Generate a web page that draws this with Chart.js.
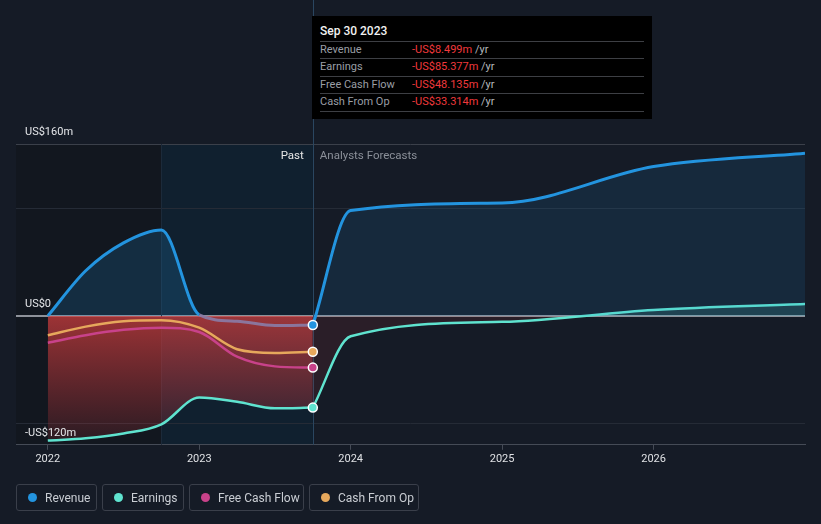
<!DOCTYPE html>
<html><head><meta charset="utf-8">
<script src="https://cdn.jsdelivr.net/npm/chart.js@4"></script>
<style>
html,body{margin:0;padding:0;background:#151b26;}
#wrap{position:relative;width:821px;height:524px;font-family:Roboto,"Noto Sans",sans-serif;overflow:hidden;}
#c{position:absolute;left:0;top:0;}
#tip{position:absolute;left:312px;top:16px;width:340px;height:103px;background:#000;color:#fff;font-size:11px;}
#tip .t{position:absolute;left:8px;top:8px;font-size:12px;font-weight:500;color:#f2f2f2;}
#tip .sep{position:absolute;left:8px;right:8px;height:1px;background:#3d3f44;}
#tip .row{position:absolute;left:8px;height:14px;line-height:14px;}
#tip .lab{position:absolute;left:0;color:#9a9ea5;white-space:nowrap;}
#tip .val{position:absolute;left:92px;color:#f0393c;white-space:nowrap;}
#tip .val span{color:#b5b8bd;}
#legend{position:absolute;left:16px;top:484px;display:flex;gap:5px;}
.li{box-sizing:border-box;height:27px;border:1px solid #3a3f4a;border-radius:3px;display:flex;align-items:center;padding-left:11px;font-size:12px;color:#c9cdd3;}
.li i{display:inline-block;width:9px;height:9px;border-radius:50%;margin-right:8px;}
</style></head>
<body><div id="wrap"><canvas id="c" width="821" height="524"></canvas>
<div id="tip"></div><div id="legend"></div></div>
<script>
// ---------- data ----------
const pastDates     = [2022.0, 2022.25, 2022.5, 2022.75, 2023.0, 2023.25, 2023.5, 2023.75];
const forecastDates = [2023.75, 2024.0, 2025.0, 2026.0, 2027.0];
const revenuePast   = [0, 42, 68, 80, 1, -5, -9, -8.499];
const revenueFc     = [-8.499, 98, 105, 139, 151.5];
const earningsPast  = [-116, -114, -109.5, -101, -76, -80, -86, -85.377];
const earningsFc    = [-85.377, -19, -5.5, 5.5, 11];
const fcfPast       = [-25, -18, -13, -11, -15, -38, -47, -48.135];
const cfoPast       = [-18, -10, -5, -4, -11, -31, -34.5, -33.314];
const yearTicks     = [2022, 2023, 2024, 2025, 2026];
const yGridValues   = [-120, -100, 0, 100, 160];
const yLabels       = [{v:160, t:'US$160m'}, {v:0, t:'US$0'}, {v:-120, t:'-US$120m'}];
const seriesNames   = ['Revenue', 'Earnings', 'Free Cash Flow', 'Cash From Op'];
const seriesColors  = ['#2394df', '#5fe3cf', '#c8428a', '#e6a85c'];
const tipTitle      = 'Sep 30 2023';
const tipValues     = ['-US$8.499m', '-US$85.377m', '-US$48.135m', '-US$33.314m'];
const highlightStart = 2022.75, forecastStart = 2023.75;
const xMin = 2021.79, xMax = 2027.0;

const pts = (xs, ys) => xs.map((x, i) => ({x, y: ys[i]}));
const lastPoint = n => (ctx => ctx.dataIndex === n - 1 ? 4.5 : 0);

const redGrad = ctx => {
  const ch = ctx.chart, ca = ch.chartArea;
  if (!ca) return 'rgba(205,60,60,0.4)';
  const y0 = ch.scales.y.getPixelForValue(0);
  const g = ch.ctx.createLinearGradient(0, y0, 0, ca.bottom);
  g.addColorStop(0, 'rgba(210,62,62,0.72)');
  g.addColorStop(1, 'rgba(200,55,60,0.12)');
  return g;
};

const base = {cubicInterpolationMode:'monotone', pointBorderColor:'#ffffff', pointBorderWidth:1.5, pointHoverRadius:0};

const datasets = [
  {...base, label:'rev-past', data:pts(pastDates, revenuePast), borderColor:seriesColors[0], borderWidth:3,
   pointBackgroundColor:seriesColors[0], pointRadius:lastPoint(pastDates.length), order:1,
   fill:{target:'origin', above:'rgba(35,148,223,0.18)', below:'rgba(0,0,0,0)'},
   segment:{borderColor: c => (c.p0.parsed.y < 2 && c.p1.parsed.y < 2) ? 'rgba(138,124,168,0.9)' : undefined}},
  {...base, label:'rev-fc', data:pts(forecastDates, revenueFc), borderColor:seriesColors[0], borderWidth:3,
   pointRadius:0, order:6, fill:{target:'origin', above:'rgba(35,148,223,0.12)', below:'rgba(0,0,0,0)'}},
  {...base, label:'earn-past', data:pts(pastDates, earningsPast), borderColor:seriesColors[1], borderWidth:2.5,
   pointBackgroundColor:seriesColors[1], pointRadius:lastPoint(pastDates.length), order:4,
   backgroundColor:redGrad, fill:'origin'},
  {...base, label:'earn-fc', data:pts(forecastDates, earningsFc), borderColor:seriesColors[1], borderWidth:2.5,
   pointRadius:0, order:7, fill:{target:'origin', above:'rgba(94,230,208,0.15)', below:'rgba(200,55,60,0.12)'}},
  {...base, label:'fcf', data:pts(pastDates, fcfPast), borderColor:seriesColors[2], borderWidth:2.5,
   pointBackgroundColor:seriesColors[2], pointRadius:lastPoint(pastDates.length), order:3, fill:false},
  {...base, label:'cfo', data:pts(pastDates, cfoPast), borderColor:seriesColors[3], borderWidth:2.5,
   pointBackgroundColor:seriesColors[3], pointRadius:lastPoint(pastDates.length), order:2, fill:false}
];

const overlay = {
  id:'overlay',
  beforeDraw(chart){
    const c = chart.ctx, ca = chart.chartArea, x = chart.scales.x;
    c.save();
    c.fillStyle = '#151b26'; c.fillRect(0, 0, chart.width, chart.height);
    const xa = x.getPixelForValue(highlightStart), xb = x.getPixelForValue(forecastStart);
    c.fillStyle = '#12171f'; c.fillRect(ca.left, ca.top, xa - ca.left, ca.bottom - ca.top);
    c.fillStyle = '#10202f'; c.fillRect(xa, ca.top, xb - xa, ca.bottom - ca.top);
    c.restore();
  },
  beforeDatasetsDraw(chart){
    const c = chart.ctx, ca = chart.chartArea, x = chart.scales.x;
    const xa = Math.round(x.getPixelForValue(highlightStart)) + 0.5, xb = Math.round(x.getPixelForValue(forecastStart)) + 0.5;
    c.save();
    c.lineWidth = 1;
    c.strokeStyle = '#1c2a3a'; c.beginPath(); c.moveTo(xa, ca.top); c.lineTo(xa, ca.bottom); c.stroke();
    c.strokeStyle = '#2a4660'; c.beginPath(); c.moveTo(xb, 0); c.lineTo(xb, ca.bottom); c.stroke();
    c.restore();
  },
  afterDraw(chart){
    const c = chart.ctx, y = chart.scales.y, x = chart.scales.x, ca = chart.chartArea;
    c.save();
    c.font = '11px Roboto, sans-serif'; c.textBaseline = 'middle'; c.textAlign = 'left';
    c.fillStyle = '#e4e6e9';
    yLabels.forEach(l => c.fillText(l.t, 25, y.getPixelForValue(l.v) - 12));
    const xb = x.getPixelForValue(forecastStart);
    c.font = '11.5px Roboto, sans-serif';
    c.textAlign = 'right'; c.fillStyle = '#e6e6e6'; c.fillText('Past', xb - 9, ca.top + 12);
    c.textAlign = 'left'; c.fillStyle = '#8b9099'; c.fillText('Analysts Forecasts', xb + 7, ca.top + 12);
    c.restore();
  }
};

new Chart(document.getElementById('c'), {
  type:'line',
  data:{datasets},
  options:{
    responsive:false, animation:false, events:[],
    layout:{padding:{left:16, right:16, top:144, bottom:55}},
    plugins:{legend:{display:false}, tooltip:{enabled:false}},
    scales:{
      x:{type:'linear', min:xMin, max:xMax,
         afterBuildTicks: s => { s.ticks = yearTicks.map(v => ({value:v})); },
         ticks:{callback: v => String(v), color:'#dfe1e4', font:{family:'Roboto', size:11}, padding:3, maxRotation:0, autoSkip:false},
         grid:{drawOnChartArea:false, drawTicks:true, tickLength:5, color:'#454b56'},
         border:{display:true, color:'#454b56', width:1}},
      y:{type:'linear', min:-120, max:160,
         afterBuildTicks: s => { s.ticks = yGridValues.map(v => ({value:v})); },
         ticks:{display:false},
         grid:{drawTicks:false,
               color: c => c.tick.value === 0 ? '#8e929a' : c.tick.value === 160 ? '#3b404a' : c.tick.value === -120 ? 'rgba(0,0,0,0)' : '#252b36',
               lineWidth: c => c.tick.value === 0 ? 2 : 1},
         border:{display:false}}
    }
  },
  plugins:[overlay]
});

// ---------- tooltip box ----------
const tip = document.getElementById('tip');
let h = '<div class="t">' + tipTitle + '</div>';
const seps = [25, 42, 60, 77, 95];
seps.forEach(t => { h += '<div class="sep" style="top:' + t + 'px"></div>'; });
seriesNames.forEach((n, i) => {
  h += '<div class="row" style="top:' + (seps[i] + 1.5) + 'px"><span class="lab">' + n + '</span><span class="val">' + tipValues[i] + ' <span>/yr</span></span></div>';
});
tip.innerHTML = h;

// ---------- legend ----------
const widths = [81, 82, 115, 110];
document.getElementById('legend').innerHTML = seriesNames.map((n, i) =>
  '<div class="li" style="width:' + widths[i] + 'px"><i style="background:' + seriesColors[i] + '"></i>' + n + '</div>').join('');
</script></body></html>
